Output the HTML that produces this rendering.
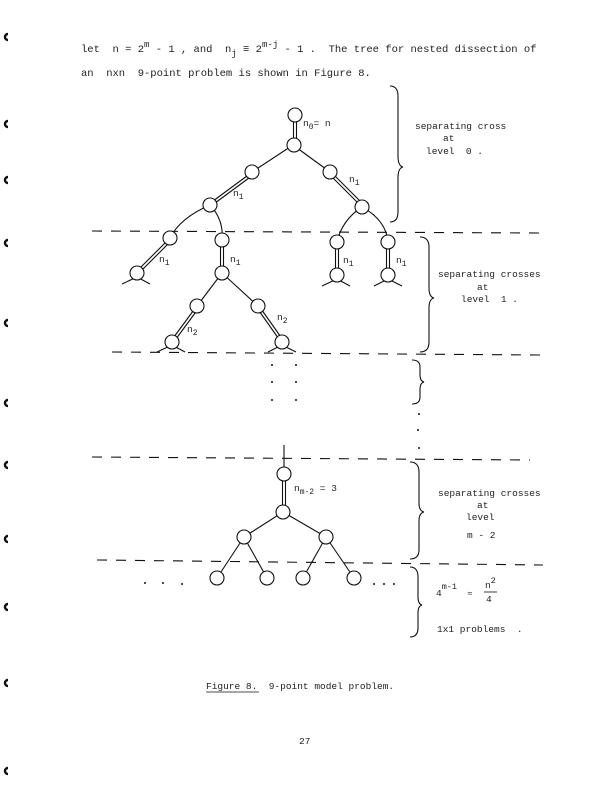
<!DOCTYPE html>
<html><head><meta charset="utf-8"><style>
html,body{margin:0;padding:0;background:#fff;}
svg{display:block;}
text{font-family:"Liberation Mono",monospace;fill:#222;white-space:pre;}
</style></head><body>
<svg width="612" height="791" viewBox="0 0 612 791" xmlns="http://www.w3.org/2000/svg">
<g stroke="#111" stroke-width="1.1" fill="none">
<path d="M8 34 a3 3 0 1 0 0 6" stroke-width="2.5"/>
<path d="M8 121 a3 3 0 1 0 0 6" stroke-width="2.5"/>
<path d="M8 177 a3 3 0 1 0 0 6" stroke-width="2.5"/>
<path d="M8 240 a3 3 0 1 0 0 6" stroke-width="2.5"/>
<path d="M8 320 a3 3 0 1 0 0 6" stroke-width="2.5"/>
<path d="M8 400 a3 3 0 1 0 0 6" stroke-width="2.5"/>
<path d="M8 462 a3 3 0 1 0 0 6" stroke-width="2.5"/>
<path d="M8 536 a3 3 0 1 0 0 6" stroke-width="2.5"/>
<path d="M8 604 a3 3 0 1 0 0 6" stroke-width="2.5"/>
<path d="M8 680 a3 3 0 1 0 0 6" stroke-width="2.5"/>
<path d="M8 768 a3 3 0 1 0 0 6" stroke-width="2.5"/>
</g>
<g stroke="#111" stroke-width="1.1" fill="none">
<line x1="92" y1="231" x2="540" y2="233" stroke-dasharray="10,9"/>
<line x1="112" y1="352" x2="540" y2="355" stroke-dasharray="10,9"/>
<line x1="92" y1="457" x2="530" y2="460" stroke-dasharray="10,9"/>
<line x1="97" y1="560" x2="543" y2="565" stroke-dasharray="10,9"/>
<line x1="293.5" y1="122" x2="293.5" y2="138"/><line x1="296.5" y1="122" x2="296.5" y2="138"/>
<line x1="293" y1="145" x2="252" y2="172"/>
<line x1="293" y1="145" x2="330" y2="172"/>
<line x1="251" y1="173" x2="209" y2="204"/><line x1="253" y1="175" x2="211" y2="206"/>
<line x1="329" y1="174" x2="361" y2="206"/><line x1="331" y1="172" x2="363" y2="204"/>
<path d="M210 205 Q180 218 170 238"/>
<path d="M210 205 Q224 220 222 240"/>
<path d="M362 207 Q342 220 337 242"/>
<path d="M362 207 Q386 220 388 242"/>
<line x1="169" y1="239" x2="136" y2="272"/><line x1="171" y1="241" x2="138" y2="274"/>
<line x1="220.5" y1="247" x2="220.5" y2="266"/><line x1="223.5" y1="247" x2="223.5" y2="266"/>
<line x1="335.5" y1="249" x2="335.5" y2="268"/><line x1="338.5" y1="249" x2="338.5" y2="268"/>
<line x1="386.5" y1="249" x2="386.5" y2="268"/><line x1="389.5" y1="249" x2="389.5" y2="268"/>
<path d="M122 284 L137 277 L150 284"/>
<path d="M322 286 L337 279 L350 286"/>
<path d="M374 286 L388 279 L402 286"/>
<line x1="222" y1="273" x2="197" y2="306"/>
<line x1="222" y1="273" x2="258" y2="306"/>
<line x1="196" y1="307" x2="171" y2="341"/><line x1="198" y1="309" x2="173" y2="343"/>
<line x1="257" y1="308" x2="281" y2="342"/><line x1="259" y1="306" x2="283" y2="340"/>
<path d="M157 352 L172 345 L185 352"/>
<path d="M268 352 L282 345 L296 352"/>
<line x1="284" y1="445" x2="284" y2="467"/>
<line x1="282.5" y1="481" x2="282.5" y2="505"/><line x1="285.5" y1="481" x2="285.5" y2="505"/>
<line x1="283" y1="512" x2="244" y2="537"/>
<line x1="283" y1="512" x2="326" y2="537"/>
<line x1="244" y1="537" x2="217" y2="578"/>
<line x1="244" y1="537" x2="267" y2="578"/>
<line x1="326" y1="537" x2="303" y2="578"/>
<line x1="326" y1="537" x2="354" y2="578"/>
<path d="M390 86 Q398 86 398 96 L398 156 Q398 166 403 167 Q398 168 398 178 L398 212 Q398 222 390 222"/>
<path d="M420 237 Q429 237 429 247 L429 288 Q429 297 434 298 Q429 299 429 308 L429 342 Q429 352 420 352"/>
<path d="M412 360 Q420 360 420 367 L420 375 Q420 381 424 382 Q420 383 420 389 L420 397 Q420 404 412 404"/>
<path d="M410 462 Q419 462 419 472 L419 503 Q419 511 424 512 Q419 513 419 521 L419 550 Q419 559 410 559"/>
<path d="M410 567 Q418 567 418 577 L418 597 Q418 604 422 605 Q418 606 418 613 L418 628 Q418 637 410 637"/>
</g>
<g stroke="#111" stroke-width="1.1" fill="#fff">
<circle cx="295" cy="115" r="7"/><circle cx="294" cy="145" r="7"/>
<circle cx="252" cy="172" r="7"/><circle cx="330" cy="172" r="7"/>
<circle cx="210" cy="205" r="7"/><circle cx="362" cy="207" r="7"/>
<circle cx="170" cy="238" r="7"/><circle cx="222" cy="240" r="7"/>
<circle cx="337" cy="242" r="7"/><circle cx="388" cy="242" r="7"/>
<circle cx="137" cy="273" r="7"/><circle cx="222" cy="273" r="7"/>
<circle cx="337" cy="275" r="7"/><circle cx="388" cy="275" r="7"/>
<circle cx="197" cy="306" r="7"/><circle cx="258" cy="306" r="7"/>
<circle cx="172" cy="342" r="7"/><circle cx="282" cy="342" r="7"/>
<circle cx="284" cy="474" r="7"/><circle cx="283" cy="512" r="7"/>
<circle cx="244" cy="537" r="7"/><circle cx="326" cy="537" r="7"/>
<circle cx="217" cy="578" r="7"/><circle cx="267" cy="578" r="7"/>
<circle cx="303" cy="578" r="7"/><circle cx="354" cy="578" r="7"/>
</g>
<g fill="#111">
<circle cx="272" cy="365" r="1"/><circle cx="296" cy="365" r="1"/>
<circle cx="272" cy="382" r="1"/><circle cx="296" cy="382" r="1"/>
<circle cx="272" cy="400" r="1"/><circle cx="296" cy="400" r="1"/>
<circle cx="419" cy="414" r="1"/><circle cx="418" cy="430" r="1"/><circle cx="419" cy="448" r="1"/>
<circle cx="145" cy="583" r="1"/><circle cx="163" cy="583" r="1"/><circle cx="182" cy="584" r="1"/>
<circle cx="374" cy="584" r="1"/><circle cx="384" cy="584" r="1"/><circle cx="394" cy="584" r="1"/>
</g>
<g font-size="10.5">
<text x="81" y="52">let  n = 2<tspan dy="-5" font-size="9">m</tspan><tspan dy="5"> - 1 , and  n</tspan><tspan dy="4" font-size="9">j</tspan><tspan dy="-4"> ≡ 2</tspan><tspan dy="-5" font-size="9">m-j</tspan><tspan dy="5"> - 1 .  The tree for nested dissection of</tspan></text>
<text x="81" y="76">an  nxn  9-point problem is shown in Figure 8.</text>
</g>
<g font-size="9.5">
<text x="303" y="126">n<tspan dy="3" font-size="8">0</tspan><tspan dy="-3">= n</tspan></text>
<text x="349" y="182">n<tspan dy="3" font-size="8">1</tspan></text>
<text x="233" y="196">n<tspan dy="3" font-size="8">1</tspan></text>
<text x="159" y="262">n<tspan dy="3" font-size="8">1</tspan></text>
<text x="230" y="262">n<tspan dy="3" font-size="8">1</tspan></text>
<text x="343" y="263">n<tspan dy="3" font-size="8">1</tspan></text>
<text x="396" y="263">n<tspan dy="3" font-size="8">1</tspan></text>
<text x="187" y="332">n<tspan dy="3" font-size="8">2</tspan></text>
<text x="277" y="320">n<tspan dy="3" font-size="8">2</tspan></text>
<text x="294" y="491">n<tspan dy="3" font-size="8">m-2</tspan><tspan dy="-3"> = 3</tspan></text>
<text x="415" y="129">separating cross</text>
<text x="443" y="141">at</text>
<text x="426" y="154">level  0 .</text>
<text x="438" y="277">separating crosses</text>
<text x="477" y="290">at</text>
<text x="461" y="302">level  1 .</text>
<text x="438" y="496">separating crosses</text>
<text x="477" y="508">at</text>
<text x="466" y="520">level</text>
<text x="467" y="538">m - 2</text>
<text x="436" y="596">4<tspan dy="-7" font-size="8.5">m-1</tspan><tspan dy="7" font-size="8.5">  ≈</tspan></text>
<text x="485" y="588">n<tspan dy="-5" font-size="8.5">2</tspan></text>
<line x1="484" y1="592" x2="497" y2="592" stroke="#111" stroke-width="0.8"/>
<text x="486" y="602">4</text>
<text x="437" y="632">1x1 problems  .</text>
<text x="206" y="689">Figure 8.  9-point model problem.</text>
<line x1="206" y1="692" x2="259" y2="692" stroke="#111" stroke-width="0.8"/>
<text x="299" y="744">27</text>
</g>
</svg>
</body></html>
